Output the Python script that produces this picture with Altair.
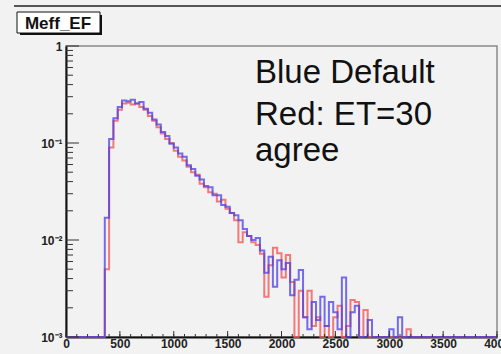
import altair as alt
import pandas as pd

# Meff_EF histogram: 100 bins of 40 GeV from 0 to 4000
bin_width = 40
n_bins = 100

# Default trigger configuration (blue)
blue_vals = [
    0, 0, 0, 0, 0, 0, 0, 0, 0, 0.017,
    0.11, 0.18, 0.235, 0.275, 0.27, 0.28, 0.255, 0.265, 0.225, 0.205,
    0.175, 0.155, 0.13, 0.118, 0.098, 0.09, 0.078, 0.072, 0.059, 0.054,
    0.046, 0.042, 0.036, 0.035, 0.029, 0.029, 0.023, 0.022, 0.019, 0.018,
    0.016, 0.013, 0.011, 0.010, 0.0105, 0.0078, 0.0046, 0.0067, 0.0033, 0.0062,
    0.0050, 0.0058, 0.0027, 0.0039, 0.0049, 0.0016, 0.0012, 0.0023, 0.0015, 0.0026,
    0.0013, 0.0023, 0.0018, 0.0012, 0.0041, 0, 0.0018, 0.0021, 0, 0,
    0.0015, 0, 0, 0, 0, 0.0012, 0, 0.0016, 0, 0,
    0, 0, 0, 0, 0, 0, 0, 0, 0, 0,
    0, 0, 0, 0, 0, 0, 0, 0, 0, 0,
]

# ET=30 configuration (red)
red_vals = [
    0, 0, 0, 0, 0, 0, 0, 0, 0, 0.005,
    0.09, 0.17, 0.22, 0.255, 0.26, 0.25, 0.255, 0.235, 0.22, 0.19,
    0.17, 0.145, 0.125, 0.11, 0.10, 0.083, 0.072, 0.066, 0.057, 0.05,
    0.047, 0.038, 0.035, 0.031, 0.030, 0.025, 0.026, 0.021, 0.019, 0.016,
    0.0095, 0.012, 0.011, 0.0095, 0.0089, 0.0072, 0.0026, 0.0055, 0.0083, 0.0073,
    0.0041, 0.0070, 0.0037, 0, 0.0030, 0.0016, 0.0030, 0.0013, 0.0016, 0,
    0.0013, 0, 0.0016, 0.0021, 0, 0.0013, 0.0024, 0.0023, 0, 0.0019,
    0, 0, 0, 0, 0, 0, 0, 0, 0, 0.0012,
    0, 0, 0, 0, 0, 0, 0, 0, 0, 0,
    0, 0, 0, 0, 0, 0, 0, 0, 0, 0,
]

x_ticks_major = [0, 500, 1000, 1500, 2000, 2500, 3000, 3500, 4000]
y_ticks_major = [0.001, 0.01, 0.1, 1]
text_lines = ["Blue Default", "Red: ET=30", "agree"]
text_baselines = [37, 79, 115]

W, H = 431, 291
Y_MIN, Y_MAX = 0.001, 1


def step_frame(vals, name):
    edges = [i * bin_width for i in range(n_bins + 1)]
    vv = list(vals) + [vals[-1]]
    return pd.DataFrame({"x": edges, "v": vv, "series": name})


hist = pd.concat([step_frame(red_vals, "red"), step_frame(blue_vals, "blue")])

xscale = alt.Scale(domain=[0, 4000], nice=False, zero=False)
yscale = alt.Scale(type="log", domain=[Y_MIN, Y_MAX], nice=False)

x_axis = alt.Axis(values=x_ticks_major, ticks=False, grid=False, title=None, format="d",
                  labelFont="Liberation Sans", labelFontSize=12, labelFontWeight="bold",
                  labelColor="#222", labelPadding=1, labelFlush=False, labelOverlap=False,
                  domainColor="#111", domainWidth=2)
y_axis = alt.Axis(values=y_ticks_major, ticks=False, grid=False, title=None,
                  labelExpr="datum.value > 0.5 ? '1' : datum.value > 0.05 ? '10⁻¹' : datum.value > 0.005 ? '10⁻²' : '10⁻³'",
                  labelFont="Liberation Sans", labelFontSize=12, labelFontWeight="bold",
                  labelColor="#222", labelPadding=4,
                  domainColor="#111", domainWidth=2)


def xq(field):
    return alt.X(field, type="quantitative", scale=xscale, axis=x_axis)


def yq(field):
    return alt.Y(field, type="quantitative", scale=yscale, axis=y_axis)


base = alt.Chart(hist).transform_calculate(vp=f"max(datum.v, {Y_MIN})")

red_line = base.transform_filter("datum.series == 'red'").mark_line(
    interpolate="step-after", color="#f05a5a", strokeWidth=2, opacity=0.8
).encode(x=xq("x"), y=yq("vp"))

blue_line = base.transform_filter("datum.series == 'blue'").mark_line(
    interpolate="step-after", color="#4a3ee8", strokeWidth=2, opacity=0.75
).encode(x=xq("x"), y=yq("vp"))

# Inward ROOT-style ticks
y_minor = [m * 10 ** k for k in (-3, -2, -1) for m in range(2, 10)]
tick_color = "#333"
y_minor_ticks = alt.Chart(pd.DataFrame({"t": y_minor})).mark_rule(color=tick_color, strokeWidth=1).encode(
    y=yq("t"), x=alt.value(0), x2=alt.value(7))
y_major_ticks = alt.Chart(pd.DataFrame({"t": y_ticks_major})).mark_rule(color=tick_color, strokeWidth=1).encode(
    y=yq("t"), x=alt.value(0), x2=alt.value(13))
x_minor_ticks = alt.Chart(pd.DataFrame({"t": list(range(0, 4001, 100))})).mark_rule(color=tick_color, strokeWidth=1).encode(
    x=xq("t"), y=alt.value(H), y2=alt.value(H - 3))
x_major_ticks = alt.Chart(pd.DataFrame({"t": x_ticks_major})).mark_rule(color=tick_color, strokeWidth=1).encode(
    x=xq("t"), y=alt.value(H), y2=alt.value(H - 6))

# Annotation text, one line per layer
note_layers = [
    alt.Chart(pd.DataFrame({"label": [txt]})).mark_text(
        align="left", baseline="alphabetic", font="Liberation Sans", fontSize=33, color="#111"
    ).encode(text="label:N", x=alt.value(189), y=alt.value(yb))
    for txt, yb in zip(text_lines, text_baselines)
]

# Canvas top border and histogram title box with shadow
one = pd.DataFrame({"a": [0]})
canvas_border = alt.Chart(one).mark_rule(color="#555", strokeWidth=2).encode(
    x=alt.value(-52), x2=alt.value(440), y=alt.value(-40))
title_shadow = alt.Chart(one).mark_rect(color="#111").encode(
    x=alt.value(-46), x2=alt.value(36), y=alt.value(-31), y2=alt.value(-11))
title_box = alt.Chart(one).mark_rect(fill="white", stroke="#111", strokeWidth=1).encode(
    x=alt.value(-49), x2=alt.value(34), y=alt.value(-34), y2=alt.value(-13))
title_text = alt.Chart(pd.DataFrame({"t": ["Meff_EF"]})).mark_text(
    align="center", baseline="alphabetic", font="Liberation Sans", fontSize=17,
    fontWeight="bold", color="#111"
).encode(text="t:N", x=alt.value(-8), y=alt.value(-17))

chart = alt.layer(
    red_line, blue_line,
    y_minor_ticks, y_major_ticks, x_minor_ticks, x_major_ticks,
    *note_layers, canvas_border, title_shadow, title_box, title_text,
).properties(
    width=W, height=H,
    autosize=alt.AutoSizeParams(type="none"),
    padding={"left": 66, "top": 46, "right": 4, "bottom": 17},
    background="#f2f2f2",
).configure_view(
    stroke="#8a8a8a", strokeWidth=1.5, fill="#f2f2f2"
)

chart.save("out.html", embed_options={"renderer": "svg", "actions": False})
